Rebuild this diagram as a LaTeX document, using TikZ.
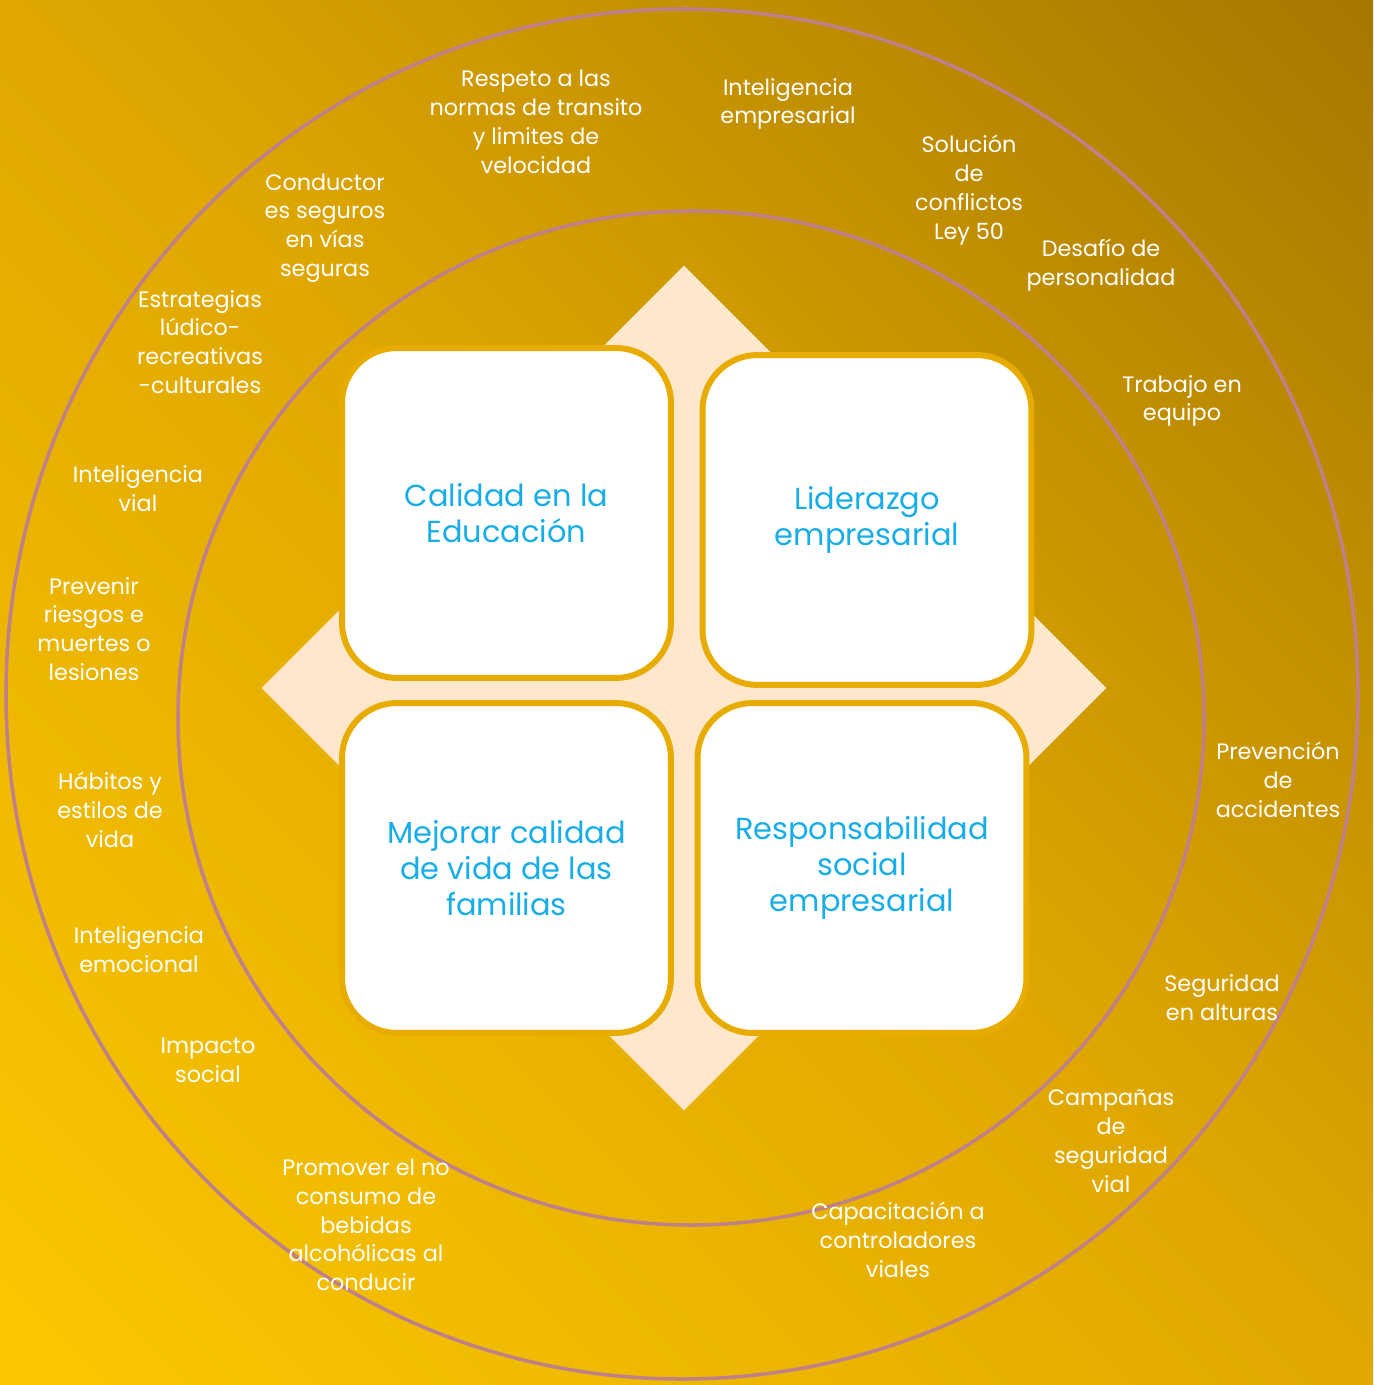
\documentclass[tikz,border=0pt]{standalone}
\usepackage{fontspec}
\setmainfont{Poppins}
\usetikzlibrary{shapes.geometric}
\definecolor{amarillo}{HTML}{FBC800}
\definecolor{ocre}{HTML}{E0A800}
\definecolor{marron}{HTML}{A67800}
\definecolor{durazno}{HTML}{FFE7CC}
\definecolor{dorado}{HTML}{E8AC00}
\definecolor{malva}{HTML}{C0808A}
\definecolor{celeste}{HTML}{18ADE6}
\pgfdeclareverticalshading{fondo}{100bp}{color(0bp)=(amarillo); color(14.6bp)=(amarillo);
  color(50bp)=(ocre); color(85.4bp)=(marron); color(100bp)=(marron)}
\tikzset{
  anillo/.style={draw=malva, line width=2pt},
  caja/.style={draw=dorado, fill=white, line width=3.4pt, rounded corners=1.1cm,
    minimum width=6.58cm, minimum height=6.6cm, align=center, text=celeste,
    font={\fontsize{17.3pt}{20.4pt}\selectfont}},
  lbl/.style={align=center, text=white, inner sep=0pt,
    font={\fontsize{12.7pt}{16.4pt}\selectfont}}}

\begin{document}
\begin{tikzpicture}[x=0.02cm,y=-0.02cm]
\useasboundingbox (0,0) rectangle (1373,1385);
\shade[shading=fondo, shading angle=-45] (0,0) rectangle (1373,1385);
\draw[anillo] (682,694) ellipse [x radius=676, y radius=685];
\draw[anillo] (691,718) ellipse [x radius=513, y radius=507];
\node[diamond, fill=durazno, inner sep=0pt, aspect=1, minimum size=16.9cm] (rombo) at (684,688) {};

\node[caja] (educ) at (506.5,513) {Calidad en la\\Educación};
\node[caja] (lider) at (867,520) {Liderazgo\\empresarial};
\node[caja] (famil) at (506.5,868) {Mejorar calidad\\de vida de las\\familias};
\node[caja] (rse) at (862,868) {Responsabilidad\\social\\empresarial};

\node[lbl] (respeto) at (536,122) {Respeto a las\\normas de transito\\y limites de\\velocidad};
\node[lbl] (intemp) at (788,104) {Inteligencia\\empresarial};
\node[lbl] (solucion) at (969,190) {Solución\\de\\conflictos\\Ley 50};
\node[lbl] (desafio) at (1101,265) {Desafío de\\personalidad};
\node[lbl] (trabajo) at (1182,401) {Trabajo en\\equipo};
\node[lbl] (prevencion) at (1278,780) {Prevención\\de\\accidentes};
\node[lbl] (alturas) at (1222,998) {Seguridad\\en alturas};
\node[lbl] (campanas) at (1111,1141) {Campañas\\de\\seguridad\\vial};
\node[lbl] (capacit) at (898,1240) {Capacitación a\\controladores\\viales};
\node[lbl] (promover) at (366,1225) {Promover el no\\consumo de\\bebidas\\alcohólicas al\\conducir};
\node[lbl] (impacto) at (208,1060) {Impacto\\social};
\node[lbl] (intemo) at (139,950) {Inteligencia\\emocional};
\node[lbl] (habitos) at (110,810) {Hábitos y\\estilos de\\vida};
\node[lbl] (prevenir) at (94,629) {Prevenir\\riesgos e\\muertes o\\lesiones};
\node[lbl] (intvial) at (138,489) {Inteligencia\\vial};
\node[lbl] (estrat) at (200,342) {Estrategias\\lúdico-\\recreativas\\-culturales};
\node[lbl] (conduct) at (325,228) {Conductor\\es seguros\\en vías\\seguras};
\end{tikzpicture}
\end{document}
